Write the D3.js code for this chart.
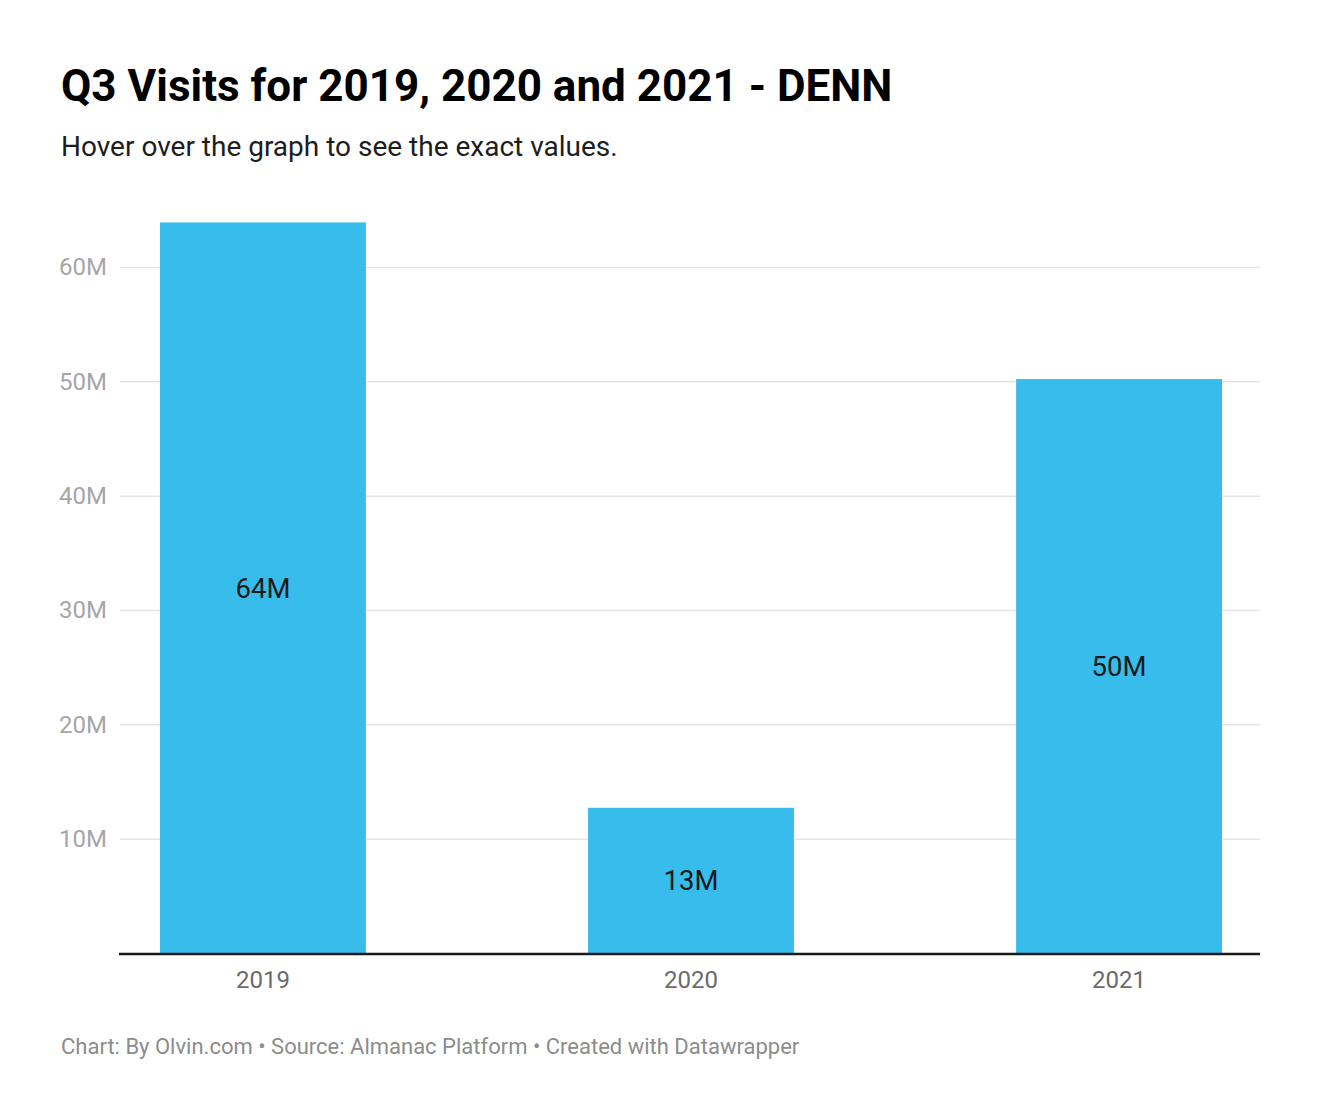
<!DOCTYPE html>
<html>
<head>
<meta charset="utf-8">
<script src="https://cdn.jsdelivr.net/npm/d3@7"></script>
<style>
  body { margin: 0; background: #fff; font-family: Roboto, "Noto Sans", sans-serif; }
</style>
</head>
<body>
<div id="chart"></div>
<script>
var years = ['2019', '2020', '2021'];
var visits = [63.9, 12.7, 50.2];   // millions
var valueLabels = ['64M', '13M', '50M'];
var yTicks = [10, 20, 30, 40, 50, 60];

var width = 1320, height = 1120;
var margin = {left: 120, right: 60, top: 210, bottom: 167};

var svg = d3.select('#chart').append('svg')
  .attr('width', width)
  .attr('height', height);

var x = d3.scaleBand()
  .domain(years)
  .range([160, 1222])
  .paddingInner(0.519)
  .paddingOuter(0);

var y = d3.scaleLinear()
  .domain([0, 60])
  .range([height - margin.bottom, 267]);

// title
svg.append('text')
  .attr('x', 61).attr('y', 101)
  .style('font-size', '44px').style('font-weight', 700)
  .style('fill', '#000')
  .text('Q3 Visits for 2019, 2020 and 2021 - DENN');

svg.append('text')
  .attr('x', 61).attr('y', 156)
  .style('font-size', '28px')
  .style('fill', '#1d1d1d')
  .text('Hover over the graph to see the exact values.');

// gridlines + y labels
var yAxis = svg.append('g')
  .attr('transform', 'translate(' + margin.left + ',0)')
  .call(d3.axisLeft(y).tickValues(yTicks)
    .tickSize(-(width - margin.left - margin.right))
    .tickPadding(13)
    .tickFormat(function(d) { return d + 'M'; }));
yAxis.select('.domain').remove();
yAxis.selectAll('line').attr('stroke', '#e5e5e5').attr('stroke-width', 1.5);
yAxis.selectAll('text')
  .style('font-family', 'Roboto').style('font-size', '24px')
  .attr('fill', '#a6a6a6');

// bars
svg.selectAll('.bar')
  .data(visits)
  .enter().append('rect')
  .attr('class', 'bar')
  .attr('x', function(d, i) { return x(years[i]); })
  .attr('width', x.bandwidth())
  .attr('y', function(d) { return y(d); })
  .attr('height', function(d) { return y(0) - y(d); })
  .attr('fill', '#38bcec');

// value labels
svg.selectAll('.val')
  .data(visits)
  .enter().append('text')
  .attr('class', 'val')
  .attr('x', function(d, i) { return x(years[i]) + x.bandwidth() / 2; })
  .attr('y', function(d) { return y(d / 2); })
  .attr('dy', '0.36em')
  .style('text-anchor', 'middle')
  .style('font-size', '27.5px')
  .style('fill', '#1a1a1a')
  .text(function(d, i) { return valueLabels[i]; });

// x axis
var xAxis = svg.append('g')
  .attr('transform', 'translate(0,' + y(0) + ')')
  .call(d3.axisBottom(x).tickSize(0).tickPadding(18));
xAxis.select('.domain').remove();
xAxis.selectAll('text')
  .style('font-family', 'Roboto').style('font-size', '24px')
  .attr('fill', '#6b6b6b');

svg.append('line')
  .attr('x1', margin.left - 1).attr('x2', width - margin.right)
  .attr('y1', y(0) + 1).attr('y2', y(0) + 1)
  .attr('stroke', '#1a1a1a').attr('stroke-width', 2.3);

// footer
svg.append('text')
  .attr('x', 61).attr('y', 1054)
  .style('font-size', '22px')
  .style('fill', '#8c8c8c')
  .text('Chart: By Olvin.com \u2022 Source: Almanac Platform \u2022 Created with Datawrapper');
</script>
</body>
</html>
